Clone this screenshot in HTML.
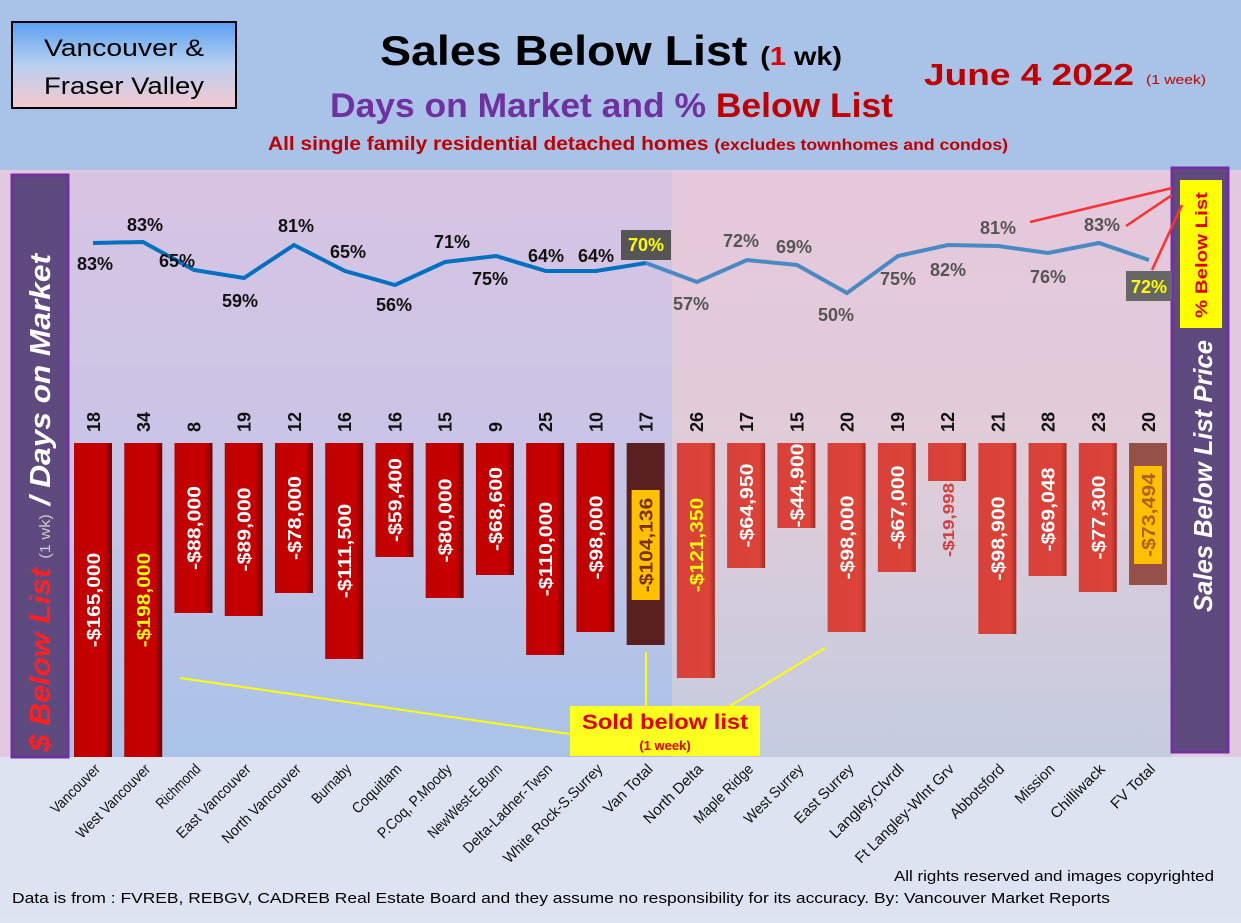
<!DOCTYPE html>
<html><head><meta charset="utf-8"><style>
body{margin:0;width:1241px;height:918px;overflow:hidden;font-family:"Liberation Sans",sans-serif;background:#dfe5f2}
</style></head><body>
<svg width="1241" height="918" xmlns="http://www.w3.org/2000/svg" font-family="Liberation Sans, sans-serif">
<defs>
<linearGradient id="box" x1="0" y1="0" x2="0" y2="1"><stop offset="0" stop-color="#5aa0f0"/><stop offset="0.5" stop-color="#b8d0f0"/><stop offset="1" stop-color="#f4c8d0"/></linearGradient>
<linearGradient id="pl" x1="0" y1="0" x2="0" y2="1"><stop offset="0" stop-color="#d8c4e2"/><stop offset="0.5" stop-color="#c8c4e6"/><stop offset="1" stop-color="#a9c3e8"/></linearGradient>
<linearGradient id="pr" x1="0" y1="0" x2="0" y2="1"><stop offset="0" stop-color="#e6c8dc"/><stop offset="0.5" stop-color="#e0ccd8"/><stop offset="1" stop-color="#c4cce0"/></linearGradient>
<linearGradient id="bar" x1="0" y1="0" x2="1" y2="0"><stop offset="0" stop-color="#c00000"/><stop offset="0.8" stop-color="#c80000"/><stop offset="1" stop-color="#700000"/></linearGradient>
<linearGradient id="bar2" x1="0" y1="0" x2="1" y2="0"><stop offset="0" stop-color="#d8403a"/><stop offset="0.85" stop-color="#dc4438"/><stop offset="1" stop-color="#a02a24"/></linearGradient>
</defs>
<rect x="0" y="0" width="1241" height="170" fill="#a8c2e8"/>
<rect x="0" y="170" width="1241" height="590" fill="#e2c8e0"/>
<rect x="0" y="757" width="1241" height="161" fill="#dde3f1"/>
<rect x="12" y="22" width="224" height="86" fill="url(#box)" stroke="#000" stroke-width="2"/>
<text x="124" y="56" font-size="24" text-anchor="middle" textLength="160" lengthAdjust="spacingAndGlyphs">Vancouver &amp;</text>
<text x="124" y="94" font-size="24" text-anchor="middle" textLength="160" lengthAdjust="spacingAndGlyphs">Fraser Valley</text>
<text x="380" y="65" font-size="42" font-weight="bold" textLength="462" lengthAdjust="spacingAndGlyphs">Sales Below List <tspan font-size="26">(<tspan fill="#e00000">1</tspan> wk)</tspan></text>
<text x="330" y="117" font-size="34" font-weight="bold" fill="#7030a0" textLength="563" lengthAdjust="spacingAndGlyphs">Days on Market and % <tspan fill="#c00000">Below List</tspan></text>
<text x="268" y="150" font-size="19" font-weight="bold" fill="#c00000" textLength="740" lengthAdjust="spacingAndGlyphs">All single family residential detached homes <tspan font-size="16">(excludes townhomes and condos)</tspan></text>
<text x="924" y="85" font-size="31" font-weight="bold" fill="#c00000" textLength="210" lengthAdjust="spacingAndGlyphs">June 4  2022</text>
<text x="1146" y="84" font-size="13" fill="#c00000" textLength="60" lengthAdjust="spacingAndGlyphs">(1 week)</text>
<rect x="68" y="172" width="604" height="585" fill="url(#pl)"/>
<rect x="672" y="172" width="500" height="585" fill="url(#pr)"/>
<rect x="12" y="175" width="56" height="582" fill="#5e4a7e" stroke="#7030a0" stroke-width="3"/>
<text transform="translate(50,752) rotate(-90)" font-size="29" font-weight="bold" font-style="italic" fill="#fff" textLength="498" lengthAdjust="spacingAndGlyphs"><tspan fill="#ff2020">$ Below List</tspan> <tspan font-size="15" fill="#ccc" font-style="normal" font-weight="normal">(1 wk)</tspan> / Days on Market</text>
<rect x="1172" y="168" width="56" height="584" fill="#5e4a7e" stroke="#7030a0" stroke-width="3"/>
<text transform="translate(1212,612) rotate(-90)" font-size="26" font-weight="bold" font-style="italic" fill="#fff" textLength="272" lengthAdjust="spacingAndGlyphs">Sales Below List Price</text>
<rect x="1180" y="180" width="42" height="148" fill="#ffff00"/>
<text transform="translate(1207,318) rotate(-90)" font-size="17" font-weight="bold" fill="#e00000" textLength="126" lengthAdjust="spacingAndGlyphs">% Below List</text>
<g id="bars"></g>
<polyline fill="none" stroke="#0070c0" stroke-width="4" points="93,243 143,242 194,270 244,278 294,245 345,271 395,285 445,262 496,256 546,271 596,271 646,263"/>
<polyline fill="none" stroke="#4a8ac4" stroke-width="4" points="646,263 697,282 747,260 797,265 847,293 898,256 948,245 998,246 1048,253 1099,243 1149,260"/>
<g font-size="18" font-weight="bold" fill="#111" text-anchor="middle">
<text x="95" y="270">83%</text><text x="145" y="231">83%</text><text x="177" y="267">65%</text><text x="240" y="307">59%</text><text x="296" y="232">81%</text><text x="348" y="258">65%</text><text x="394" y="311">56%</text><text x="452" y="248">71%</text><text x="490" y="285">75%</text><text x="546" y="262">64%</text><text x="596" y="262">64%</text>
</g>
<rect x="621" y="230" width="50" height="30" fill="#555"/>
<text x="646" y="251" font-size="18" font-weight="bold" fill="#ffff00" text-anchor="middle">70%</text>
<g font-size="18" font-weight="bold" fill="#555" text-anchor="middle">
<text x="691" y="310">57%</text><text x="741" y="247">72%</text><text x="794" y="253">69%</text><text x="836" y="321">50%</text><text x="898" y="285">75%</text><text x="948" y="276">82%</text><text x="998" y="234">81%</text><text x="1048" y="283">76%</text><text x="1102" y="231">83%</text>
</g>
<rect x="1126" y="271" width="46" height="30" fill="#666"/>
<text x="1149" y="293" font-size="18" font-weight="bold" fill="#ffff00" text-anchor="middle">72%</text>
<g stroke="#ff3030" stroke-width="2.5" fill="none"><line x1="1172" y1="188" x2="1030" y2="222"/><line x1="1172" y1="195" x2="1126" y2="226"/><line x1="1182" y1="205" x2="1152" y2="270"/></g>
<g stroke="#ffff00" stroke-width="2" fill="none"><line x1="570" y1="734" x2="180" y2="678"/><line x1="646" y1="706" x2="646" y2="652"/><line x1="730" y1="706" x2="825" y2="648"/></g>
<rect x="570" y="706" width="190" height="50" fill="#ffff20"/>
<text x="665" y="729" font-size="21" font-weight="bold" fill="#e00000" text-anchor="middle" textLength="166" lengthAdjust="spacingAndGlyphs">Sold below list</text>
<text x="665" y="750" font-size="13" font-weight="bold" fill="#e00000" text-anchor="middle">(1 week)</text>
<text x="1214" y="881" font-size="15" text-anchor="end" textLength="320" lengthAdjust="spacingAndGlyphs">All rights reserved and  images copyrighted</text>
<text x="12" y="903" font-size="15" textLength="1098" lengthAdjust="spacingAndGlyphs">Data is from : FVREB, REBGV, CADREB Real Estate Board and they assume no responsibility for its accuracy. By: Vancouver Market Reports</text>
<g id="lab"></g>
</svg>
<script>
var names=["Vancouver","West Vancouver","Richmond","East Vancouver","North Vancouver","Burnaby","Coquitlam","P.Coq, P.Moody","NewWest-E.Burn","Delta-Ladner-Twsn","White Rock-S.Surrey","Van Total","North Delta","Maple Ridge","West Surrey","East Surrey","Langley,Clvrdl","Ft Langley-Wlnt Grv","Abbotsford","Mission","Chilliwack","FV Total"];
var dom=[18,34,8,19,12,16,16,15,9,25,10,17,26,17,15,20,19,12,21,28,23,20];
var bot=[757,757,613,616,593,659,557,598,575,655,632,645,678,568,528,632,572,481,634,576,592,585];
var val=["-$165,000","-$198,000","-$88,000","-$89,000","-$78,000","-$111,500","-$59,400","-$80,000","-$68,600","-$110,000","-$98,000","-$104,136","-$121,350","-$64,950","-$44,900","-$98,000","-$67,000","-$19,998","-$98,900","-$69,048","-$77,300","-$73,494"];
var ns="http://www.w3.org/2000/svg",g=document.getElementById("bars"),L=document.getElementById("lab");
function el(t,a,p,txt){var e=document.createElementNS(ns,t);for(var k in a)e.setAttribute(k,a[k]);if(txt)e.textContent=txt;p.appendChild(e);return e;}
for(var i=0;i<22;i++){var cx=93+i*50.24,right=i>11;
var fill=i==11?"#5a2020":i==21?"#955048":right?"url(#bar2)":"url(#bar)";
el("rect",{x:cx-19,y:443,width:38,height:bot[i]-443,fill:fill},g);
var top=dom[i]<10?418:402;
el("rect",{x:cx-17,y:top,width:34,height:438-top,fill:right?"#f4e8e2":"#f2f2f2"},g);
el("text",{transform:"translate("+(cx+7)+",432) rotate(-90)","font-size":18,"font-weight":"bold",fill:"#111"},g,dom[i]);
var tc="#fff",fs=18;
if(i==1||i==12)tc="#ffff00";
if(i==11){el("rect",{x:cx-14,y:490,width:28,height:110,fill:"#ffc000"},g);tc="#7a3010";}
if(i==21){el("rect",{x:cx-14,y:466,width:28,height:98,fill:"#ffc000"},g);tc="#b06020";}
if(i==17){tc="#d04040";fs=16;}
var mid=i==17?520:(i==11?545:i==21?515:Math.min((443+bot[i])/2,i==0?650:i==1?620:i==12?545:999));
var tl=i==17?74:val[i].length*10.5;
el("text",{transform:"translate("+(cx+7)+","+mid+") rotate(-90)","font-size":fs,"font-weight":"bold",fill:tc,"text-anchor":"middle",textLength:tl,lengthAdjust:"spacingAndGlyphs"},g,val[i]);
var nl=names[i].length*7;
el("text",{transform:"translate("+(cx+8)+",770) rotate(-45)","font-size":15,fill:"#111","text-anchor":"end",textLength:nl,lengthAdjust:"spacingAndGlyphs"},L,names[i]);
}
</script>
</body></html>
